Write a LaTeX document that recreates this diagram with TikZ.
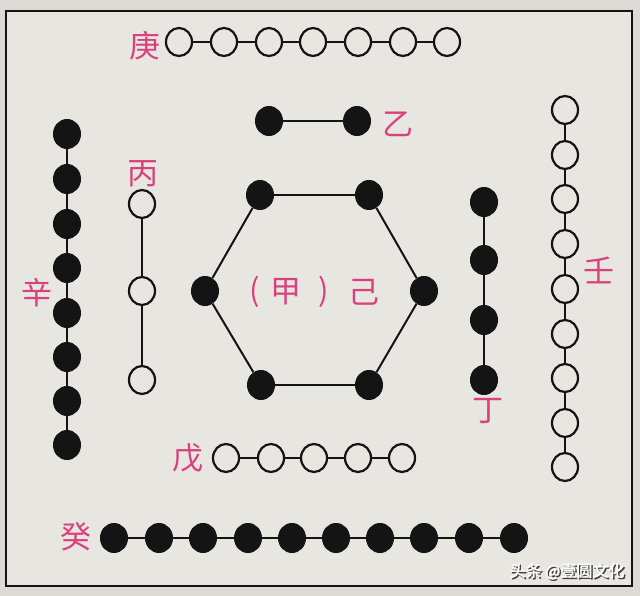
\documentclass[tikz,border=0pt]{standalone}
\usepackage{fontspec}
\newfontfamily\cjk{Noto Sans CJK SC}
\newfontfamily\cjkbold[FakeBold=1.5]{Noto Sans CJK SC}
\usetikzlibrary{shapes.geometric}
\definecolor{paper}{HTML}{E8E6E1}
\definecolor{paperout}{HTML}{DDDAD5}
\definecolor{ink}{HTML}{141414}
\definecolor{lblpink}{HTML}{D9417E}
\tikzset{
  wdot/.style={ellipse, draw=ink, line width=2.2pt, fill=paper, minimum width=26pt, minimum height=28pt, inner sep=0pt},
  bdot/.style={ellipse, draw=ink, line width=1pt, fill=ink, minimum width=27pt, minimum height=29pt, inner sep=0pt},
  link/.style={draw=ink, line width=2pt},
  lbl/.style={text=lblpink, font=\cjk\fontsize{31}{31}\selectfont, inner sep=0pt},
  wm/.style={font=\cjkbold\fontsize{16}{16}\selectfont, inner sep=0pt}
}
\begin{document}
\begin{tikzpicture}[x=1pt,y=-1pt]
\useasboundingbox (0,0) rectangle (640,596);
\fill[paperout] (0,0) rectangle (640,596);
\fill[paper] (6,11) rectangle (632,586);
\draw[ink, line width=2.6pt] (6,11) rectangle (632,586);

% 庚 : 7 open
\node[lbl] (lgeng) at (145,46) {庚};
\foreach \i/\x in {1/179,2/224,3/269,4/313,5/358,6/403,7/447}
  \node[wdot] (g\i) at (\x,42) {};
\foreach \i/\j in {1/2,2/3,3/4,4/5,5/6,6/7} \draw[link] (g\i) -- (g\j);

% 乙 : 2 filled
\node[bdot] (y1) at (269,121) {};
\node[bdot] (y2) at (357,121) {};
\draw[link] (y1) -- (y2);
\node[lbl] (lyi) at (398,124) {乙};

% 辛 : 8 filled
\node[lbl] (lxin) at (37,293) {辛};
\foreach \i/\y in {1/134,2/179,3/224,4/268,5/313,6/357,7/401,8/445}
  \node[bdot] (x\i) at (67,\y) {};
\foreach \i/\j in {1/2,2/3,3/4,4/5,5/6,6/7,7/8} \draw[link] (x\i) -- (x\j);

% 丙 : 3 open
\node[lbl] (lbing) at (143,174) {丙};
\node[wdot] (b1) at (142,204) {};
\node[wdot] (b2) at (142,291) {};
\node[wdot] (b3) at (142,380) {};
\draw[link] (b1) -- (b2);
\draw[link] (b2) -- (b3);

% 己 : hexagon of 6 filled
\node[bdot] (h1) at (260,195) {};
\node[bdot] (h2) at (369,195) {};
\node[bdot] (h3) at (424,291) {};
\node[bdot] (h4) at (369,385) {};
\node[bdot] (h5) at (261,385) {};
\node[bdot] (h6) at (205,291) {};
\foreach \i/\j in {1/2,2/3,3/4,4/5,5/6,6/1} \draw[link] (h\i) -- (h\j);
\node[lbl] (lpa) at (255,292) {(};
\node[lbl] (ljia) at (286,292) {甲};
\node[lbl] (lpb) at (324,292) {)};
\node[lbl] (lji) at (364,292) {己};

% 丁 : 4 filled
\foreach \i/\y in {1/202,2/260,3/320,4/380}
  \node[bdot] (d\i) at (484,\y) {};
\foreach \i/\j in {1/2,2/3,3/4} \draw[link] (d\i) -- (d\j);
\node[lbl] (lding) at (488,411) {丁};

% 壬 : 9 open
\foreach \i/\y in {1/110,2/155,3/199,4/244,5/289,6/334,7/378,8/423,9/467}
  \node[wdot] (r\i) at (565,\y) {};
\foreach \i/\j in {1/2,2/3,3/4,4/5,5/6,6/7,7/8,8/9} \draw[link] (r\i) -- (r\j);
\node[lbl] (lren) at (599,270) {壬};

% 戊 : 5 open
\node[lbl] (lwu) at (188,458) {戊};
\foreach \i/\x in {1/226,2/271,3/314,4/358,5/402}
  \node[wdot] (w\i) at (\x,458) {};
\foreach \i/\j in {1/2,2/3,3/4,4/5} \draw[link] (w\i) -- (w\j);

% 癸 : 10 filled
\node[lbl] (lgui) at (76,537) {癸};
\foreach \i/\x in {1/114,2/159,3/203,4/248,5/292,6/336,7/380,8/424,9/469,10/514}
  \node[bdot] (k\i) at (\x,538) {};
\foreach \i/\j in {1/2,2/3,3/4,4/5,5/6,6/7,7/8,8/9,9/10} \draw[link] (k\i) -- (k\j);

% watermark (white text with dark shadow, one node)
\node[wm, text=white] (wmt) at (567,572)
  {\makebox[0pt][l]{\hspace{1.5pt}\raisebox{-1.5pt}{\color{black!75}头条 @壹圆文化}}头条 @壹圆文化};
\end{tikzpicture}
\end{document}
